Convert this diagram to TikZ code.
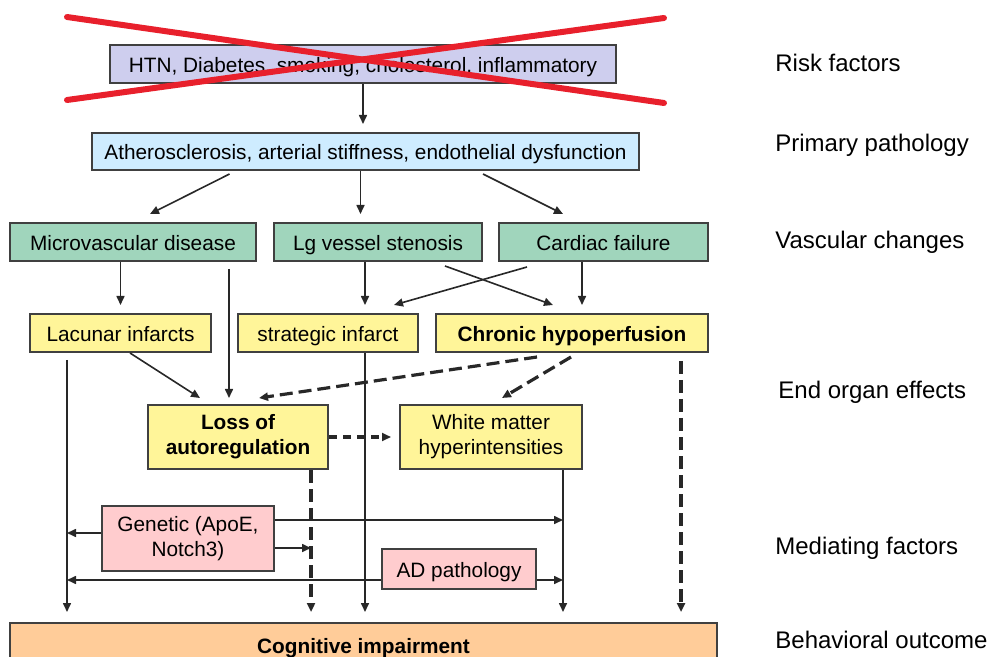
\documentclass[tikz,border=0pt]{standalone}
\usepackage{fontspec}
\setmainfont{Liberation Sans}
\usepackage{xcolor}
\usetikzlibrary{arrows.meta}
\definecolor{boxline}{RGB}{64,64,64}
\definecolor{arrowgrey}{RGB}{40,40,40}
\definecolor{crossred}{RGB}{232,32,44}
\definecolor{riskfill}{RGB}{206,206,238}
\definecolor{primfill}{RGB}{206,236,255}
\definecolor{vascfill}{RGB}{160,213,188}
\definecolor{organfill}{RGB}{255,245,153}
\definecolor{mediatefill}{RGB}{255,204,206}
\definecolor{outcomefill}{RGB}{255,204,153}
\tikzset{
  box/.style={draw=boxline,line width=1pt,align=center,inner sep=2pt,
    font=\fontsize{10.4}{12.6}\selectfont},
  oneline/.style={text height=1.9ex,text depth=.3ex},
  riskbox/.style={box,oneline,fill=riskfill},
  primbox/.style={box,oneline,fill=primfill},
  vascbox/.style={box,oneline,fill=vascfill},
  organbox/.style={box,fill=organfill},
  mediatebox/.style={box,fill=mediatefill},
  outcomebox/.style={box,oneline,fill=outcomefill},
  layerlabel/.style={anchor=west,inner sep=0pt,font=\fontsize{12}{14}\selectfont},
  flow/.style={-{Triangle[length=4.5pt,width=4pt]},line width=0.8pt,draw=arrowgrey},
  dashflow/.style={flow,line width=1.6pt,dash pattern=on 6.5pt off 3pt},
  shortdash/.style={flow,line width=1.6pt,dash pattern=on 4pt off 3pt}
}
\begin{document}
\begin{tikzpicture}[x=0.5pt,y=-0.5pt]
  \useasboundingbox (0,0) rectangle (990,657);
  % boxes, top to bottom
  \node[riskbox,minimum width=253pt,minimum height=19pt] (risk) at (363,64)
    {HTN, Diabetes, smoking, cholesterol, inflammatory};
  \node[primbox,minimum width=273.5pt,minimum height=18.5pt] (prim) at (365.5,151.5)
    {Atherosclerosis, arterial stiffness, endothelial dysfunction};
  \node[vascbox,minimum width=123pt,minimum height=19pt] (micro) at (133,242) {Microvascular disease};
  \node[vascbox,minimum width=104pt,minimum height=19pt] (lgv) at (378,242) {Lg vessel stenosis};
  \node[vascbox,minimum width=104.5pt,minimum height=19pt] (cardiac) at (603.5,242) {Cardiac failure};
  \node[organbox,oneline,minimum width=90.5pt,minimum height=19pt] (lacunar) at (120.5,333) {Lacunar infarcts};
  \node[organbox,oneline,minimum width=90pt,minimum height=19pt] (strategic) at (328,333) {strategic infarct};
  \node[organbox,oneline,minimum width=136pt,minimum height=19pt,font=\fontsize{10.4}{12.6}\selectfont\bfseries]
    (chronic) at (572,333) {Chronic hypoperfusion};
  \node[organbox,minimum width=90pt,minimum height=32pt,font=\fontsize{10.4}{12.6}\selectfont\bfseries]
    (loss) at (238,437) {Loss of\\autoregulation};
  \node[organbox,minimum width=91pt,minimum height=32pt] (wmh) at (491,437) {White matter\\hyperintensities};
  \node[mediatebox,minimum width=86pt,minimum height=32.5pt] (genetic) at (188,538.5) {Genetic (ApoE,\\Notch3)};
  \node[mediatebox,oneline,minimum width=77pt,minimum height=20pt] (adpath) at (459,569) {AD pathology};
  \node[outcomebox,minimum width=353.5pt,minimum height=22pt,font=\fontsize{10.4}{12.6}\selectfont\bfseries]
    (cognitive) at (363.5,645) {Cognitive impairment};
  % red cross over the risk factors
  \draw[crossred,line width=3pt,line cap=round] (67,17) -- (664,103);
  \draw[crossred,line width=3pt,line cap=round] (67,100) -- (664,18);
  % levels
  \node[layerlabel] (lrisk) at (775,63) {Risk factors};
  \node[layerlabel] (lprim) at (775,145) {Primary pathology};
  \node[layerlabel] (lvasc) at (775,242) {Vascular changes};
  \node[layerlabel] (lorgan) at (778,392) {End organ effects};
  \node[layerlabel] (lmediate) at (775,548) {Mediating factors};
  \node[layerlabel] (loutcome) at (775,640) {Behavioral outcome};
  % vertical lines down to the outcome
  \coordinate (lacline) at ([xshift=-26.75pt]lacunar.south);
  \coordinate (stratline) at ([xshift=18.5pt]strategic.south);
  \coordinate (lossline) at ([xshift=36.5pt]loss.south);
  \coordinate (wmhline) at ([xshift=36pt]wmh.south);
  \coordinate (chronline) at ([xshift=54.5pt]chronic.south);
  % arrows
  \draw[flow,shorten >=4pt] (risk.south) -- (risk.south |- prim.north);
  \draw[flow] ([xshift=-68pt,yshift=-1.5pt]prim.south) -- ([xshift=8.5pt,yshift=4pt]micro.north);
  \draw[flow,shorten >=4pt] ([xshift=-2.5pt]prim.south) -- ([xshift=-2.5pt]prim.south |- lgv.north);
  \draw[flow] ([xshift=58.75pt,yshift=-1.5pt]prim.south) -- ([xshift=-20.25pt,yshift=4pt]cardiac.north);
  \draw[flow,shorten >=4pt] (micro.south -| lacunar.north) -- (lacunar.north);
  \draw[flow,shorten <=3.5pt,shorten >=3pt] ([xshift=48pt]micro.south) -- ([xshift=48pt]micro.south |- loss.north);
  \draw[flow,shorten >=4pt] ([xshift=-6.5pt]lgv.south) -- ([xshift=-6.5pt]lgv.south |- strategic.north);
  \draw[flow] ([xshift=33.5pt,yshift=-2pt]lgv.south) -- ([xshift=-9.5pt,yshift=4pt]chronic.north);
  \draw[flow] ([xshift=-38.25pt,yshift=-2.5pt]cardiac.south) -- ([xshift=33pt,yshift=4pt]strategic.north);
  \draw[flow,shorten >=4pt] ([xshift=-10.75pt]cardiac.south) -- ([xshift=-10.75pt]cardiac.south |- chronic.north);
  \draw[flow,shorten <=3.5pt,shorten >=5pt] (lacline) -- (lacline |- cognitive.north);
  \draw[flow] ([xshift=4.75pt]lacunar.south) -- ([xshift=-19pt,yshift=3pt]loss.north);
  \draw[flow,shorten >=5pt] (stratline) -- (stratline |- cognitive.north);
  \draw[dashflow] ([xshift=-17.5pt,yshift=-2pt]chronic.south) -- ([xshift=10.5pt,yshift=3pt]loss.north);
  \draw[dashflow] ([xshift=-0.5pt,yshift=-2pt]chronic.south) -- ([xshift=5.5pt,yshift=3pt]wmh.north);
  \draw[dashflow,shorten <=4pt,shorten >=5pt] (chronline) -- (chronline |- cognitive.north);
  \draw[shortdash,shorten >=4pt] (loss.east) -- (wmh.west);
  \draw[dashflow,shorten >=5pt] (lossline) -- (lossline |- cognitive.north);
  \draw[flow,shorten >=5pt] (wmhline) -- (wmhline |- cognitive.north);
  % mediating factors
  \draw[flow] ([yshift=2.75pt]genetic.west) -- ([yshift=2.75pt]genetic.west -| lacline);
  \draw[flow] ([yshift=9.25pt]genetic.east) -- ([yshift=9.25pt]genetic.east -| wmhline);
  \draw[flow] ([yshift=-4.75pt]genetic.east) -- ([yshift=-4.75pt]genetic.east -| lossline);
  \draw[flow] ([yshift=-5.5pt]adpath.west) -- ([yshift=-5.5pt]adpath.west -| lacline);
  \draw[flow] ([yshift=-5.5pt]adpath.east) -- ([yshift=-5.5pt]adpath.east -| wmhline);
\end{tikzpicture}
\end{document}
